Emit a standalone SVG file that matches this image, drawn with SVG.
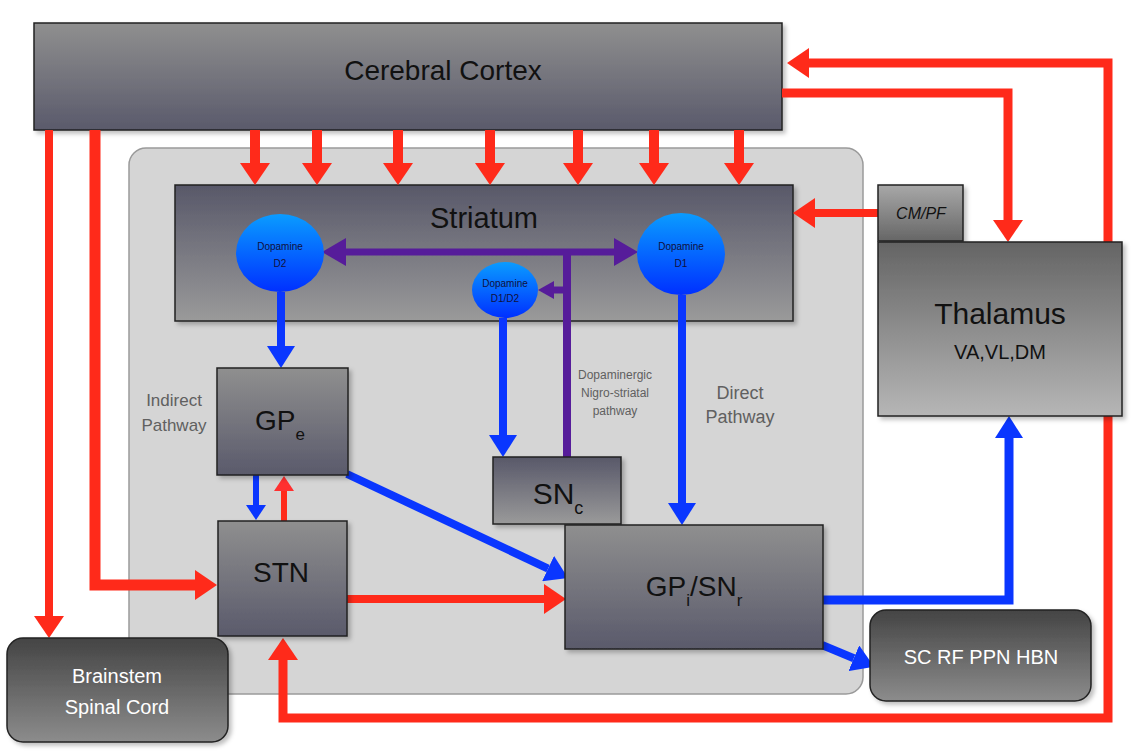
<svg xmlns="http://www.w3.org/2000/svg" width="1136" height="756" viewBox="0 0 1136 756">
<defs>
<linearGradient id="gDown" x1="0" y1="0" x2="0" y2="1"><stop offset="0" stop-color="#8f8f8f"/><stop offset="1" stop-color="#5a5a6b"/></linearGradient>
<linearGradient id="gUp" x1="0" y1="0" x2="0" y2="1"><stop offset="0" stop-color="#585869"/><stop offset="1" stop-color="#9a9a9a"/></linearGradient>
<linearGradient id="gThal" x1="0" y1="0" x2="0" y2="1"><stop offset="0" stop-color="#646464"/><stop offset="1" stop-color="#b6b6b6"/></linearGradient>
<linearGradient id="gCm" x1="0" y1="0" x2="0" y2="1"><stop offset="0" stop-color="#a8a8a8"/><stop offset="1" stop-color="#666666"/></linearGradient>
<linearGradient id="gDark" x1="0" y1="0" x2="0" y2="1"><stop offset="0" stop-color="#444444"/><stop offset="1" stop-color="#8c8c8c"/></linearGradient>
<linearGradient id="gBlue" x1="0" y1="0" x2="0" y2="1"><stop offset="0" stop-color="#0a9cff"/><stop offset="1" stop-color="#0030ff"/></linearGradient>
<filter id="sh" x="-10%" y="-10%" width="130%" height="130%"><feDropShadow dx="3" dy="3" stdDeviation="2" flood-color="#000" flood-opacity="0.25"/></filter>
<marker id="rA" markerUnits="userSpaceOnUse" viewBox="0 0 22 30" markerWidth="22" markerHeight="30" refX="0" refY="15" orient="auto-start-reverse"><path d="M0,0 L22,15 L0,30 Z" fill="#ff2a1a"/></marker>
<marker id="rS" markerUnits="userSpaceOnUse" viewBox="0 0 15 20" markerWidth="15" markerHeight="20" refX="0" refY="10" orient="auto"><path d="M0,0 L15,10 L0,20 Z" fill="#ff3030"/></marker>
<marker id="bA" markerUnits="userSpaceOnUse" viewBox="0 0 22 28" markerWidth="22" markerHeight="28" refX="0" refY="14" orient="auto"><path d="M0,0 L22,14 L0,28 Z" fill="#0a36ff"/></marker>
<marker id="bS" markerUnits="userSpaceOnUse" viewBox="0 0 15 20" markerWidth="15" markerHeight="20" refX="0" refY="10" orient="auto"><path d="M0,0 L15,10 L0,20 Z" fill="#0a36ff"/></marker>
<marker id="pA" markerUnits="userSpaceOnUse" viewBox="0 0 24 28" markerWidth="24" markerHeight="28" refX="0" refY="14" orient="auto-start-reverse"><path d="M0,0 L24,14 L0,28 Z" fill="#561c9a"/></marker>
<marker id="pS" markerUnits="userSpaceOnUse" viewBox="0 0 16 18" markerWidth="16" markerHeight="18" refX="0" refY="9" orient="auto"><path d="M0,0 L16,9 L0,18 Z" fill="#561c9a"/></marker>
</defs>
<style>
.box{stroke:#222;stroke-width:1.5;filter:url(#sh)}
.t{font-family:"Liberation Sans",Arial,sans-serif;fill:#111;text-anchor:middle}
.w{font-family:"Liberation Sans",Arial,sans-serif;fill:#fff;text-anchor:middle}
.g{font-family:"Liberation Sans",Arial,sans-serif;fill:#606060;text-anchor:middle}
.d{font-family:"Liberation Sans",Arial,sans-serif;fill:#101040;text-anchor:middle;font-size:10px}
.red{fill:none;stroke:#ff2a1a;stroke-linejoin:miter}
.blue{fill:none;stroke:#0a36ff}
.pur{fill:none;stroke:#561c9a}
</style>
<rect width="1136" height="756" fill="#ffffff"/>
<g id="basal-ganglia-region">
<rect x="129" y="148" width="734" height="546" rx="17" fill="#d5d5d5" stroke="#9a9a9a" stroke-width="1.5"/>
</g>
<g id="cerebral-cortex">
<rect class="box" x="34" y="23" width="748" height="107" fill="url(#gDown)"/>
<text class="t" x="443" y="80" font-size="28">Cerebral Cortex</text>
</g>
<g id="striatum">
<rect class="box" x="175" y="185" width="618" height="136" fill="url(#gUp)"/>
<text class="t" x="484" y="228" font-size="29">Striatum</text>
</g>
<g id="connectors">
<path class="red" stroke-width="10" marker-end="url(#rA)" d="M255,130 V163"/>
<path class="red" stroke-width="10" marker-end="url(#rA)" d="M317,130 V163"/>
<path class="red" stroke-width="10" marker-end="url(#rA)" d="M398,130 V163"/>
<path class="red" stroke-width="10" marker-end="url(#rA)" d="M490,130 V163"/>
<path class="red" stroke-width="10" marker-end="url(#rA)" d="M578,130 V163"/>
<path class="red" stroke-width="10" marker-end="url(#rA)" d="M654,130 V163"/>
<path class="red" stroke-width="10" marker-end="url(#rA)" d="M739,130 V163"/>
<path class="red" stroke-width="9" marker-end="url(#rA)" d="M782,93 H1008 V220"/>
<path class="red" stroke-width="9" marker-start="url(#rA)" marker-end="url(#rA)" d="M283,660 V718 H1108 V63 H809"/>
<path class="red" stroke-width="8" marker-end="url(#rA)" d="M878,213 H815"/>
<path class="red" stroke-width="8" marker-end="url(#rA)" d="M49,130 V616"/>
<path class="red" stroke-width="11" marker-end="url(#rA)" d="M95,130 V585 H195"/>
<path class="red" stroke-width="8" marker-end="url(#rA)" d="M347,599 H544"/>
<path class="red" stroke-width="6" marker-end="url(#rS)" d="M284,521 V491"/>
<path class="blue" stroke-width="6" marker-end="url(#bS)" d="M256,475 V505"/>
<path class="blue" stroke-width="8" marker-end="url(#bA)" d="M281,292 V346"/>
<path class="blue" stroke-width="8" marker-end="url(#bA)" d="M503,318 V435"/>
<path class="blue" stroke-width="8" marker-end="url(#bA)" d="M682,295 V503"/>
<path class="blue" stroke-width="8" marker-end="url(#bA)" d="M347,474 L548.1,568.6"/>
<path class="blue" stroke-width="9" marker-end="url(#bA)" d="M822,600 H1009 V438"/>
<path class="blue" stroke-width="8" marker-end="url(#bA)" d="M822,645 L853.8,658.3"/>
<path class="pur" stroke-width="7" marker-start="url(#pA)" marker-end="url(#pA)" d="M346,252 H614"/>
<path class="pur" stroke-width="8" d="M567,252 V457"/>
<path class="pur" stroke-width="7" marker-end="url(#pS)" d="M567,290 H554"/>
</g>
<g id="dopamine-d2">
<ellipse cx="280" cy="253" rx="44" ry="39" fill="url(#gBlue)"/>
<text class="d" x="280" y="250">Dopamine</text>
<text class="d" x="280" y="267">D2</text>
</g>
<g id="dopamine-d1">
<ellipse cx="681" cy="254" rx="44" ry="41" fill="url(#gBlue)"/>
<text class="d" x="681" y="250">Dopamine</text>
<text class="d" x="681" y="267">D1</text>
</g>
<g id="dopamine-d1d2">
<ellipse cx="505" cy="290" rx="33" ry="28" fill="url(#gBlue)"/>
<text class="d" x="505" y="287">Dopamine</text>
<text class="d" x="505" y="302">D1/D2</text>
</g>
<g id="gpe">
<rect class="box" x="217" y="368" width="131" height="107" fill="url(#gDown)"/>
<text class="t" x="280" y="430" font-size="28">GP<tspan font-size="17" dy="10">e</tspan></text>
</g>
<g id="snc">
<rect class="box" x="493" y="457" width="128" height="67" fill="url(#gUp)"/>
<text class="t" x="558" y="504" font-size="30">SN<tspan font-size="18" dy="10">c</tspan></text>
</g>
<g id="stn">
<rect class="box" x="218" y="521" width="129" height="115" fill="url(#gDown)"/>
<text class="t" x="281" y="582" font-size="28">STN</text>
</g>
<g id="gpi-snr">
<rect class="box" x="565" y="525" width="258" height="124" fill="url(#gDown)"/>
<text class="t" x="694" y="596" font-size="28">GP<tspan font-size="17" dy="10">i</tspan><tspan dy="-10">/SN</tspan><tspan font-size="17" dy="10">r</tspan></text>
</g>
<g id="cm-pf">
<rect class="box" x="878" y="185" width="85" height="56" fill="url(#gCm)"/>
<text class="t" x="921" y="219" font-size="16" font-style="italic">CM/PF</text>
</g>
<g id="thalamus">
<rect class="box" x="878" y="242" width="244" height="174" fill="url(#gThal)"/>
<text class="t" x="1000" y="324" font-size="30">Thalamus</text>
<text class="t" x="1000" y="359" font-size="20">VA,VL,DM</text>
</g>
<g id="brainstem">
<rect class="box" x="7" y="638" width="221" height="104" rx="16" fill="url(#gDark)" stroke="#333"/>
<text class="w" x="117" y="683" font-size="20">Brainstem</text>
<text class="w" x="117" y="714" font-size="20">Spinal Cord</text>
</g>
<g id="sc-rf-ppn-hbn">
<rect class="box" x="870" y="610" width="221" height="91" rx="16" fill="url(#gDark)" stroke="#333"/>
<text class="w" x="981" y="664" font-size="20">SC RF PPN HBN</text>
</g>
<g id="labels">
<text class="g" x="174" y="406" font-size="17">Indirect</text>
<text class="g" x="174" y="431" font-size="17">Pathway</text>
<text class="g" x="615" y="379" font-size="12">Dopaminergic</text>
<text class="g" x="615" y="397" font-size="12">Nigro-striatal</text>
<text class="g" x="615" y="415" font-size="12">pathway</text>
<text class="g" x="740" y="399" font-size="18">Direct</text>
<text class="g" x="740" y="423" font-size="18">Pathway</text>
</g>
</svg>
